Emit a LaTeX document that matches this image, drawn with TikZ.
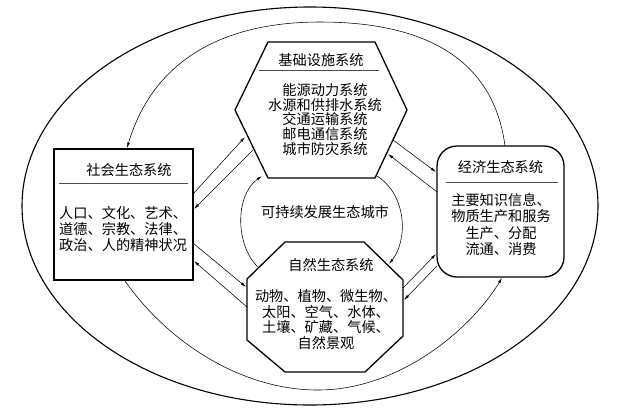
\documentclass[tikz,border=0pt]{standalone}
\usepackage{fontspec}
\newfontfamily\cjk{Noto Sans CJK SC}
\usetikzlibrary{arrows.meta}
\begin{document}
\begin{tikzpicture}[x=1pt,y=-1pt,
  shapeline/.style={line width=1.3pt, line join=miter},
  link/.style={line width=0.55pt, -{Latex[length=5.5pt,width=2.8pt]}},
  rulel/.style={line width=0.9pt, black!70},
  txt/.style={font=\cjk\fontsize{14.2}{15.5}\selectfont, inner sep=0pt, align=center},
  txthex/.style={font=\cjk\fontsize{14.2}{14.75}\selectfont, inner sep=0pt, align=center},
  txtsoc/.style={font=\cjk\fontsize{14.2}{16}\selectfont, inner sep=0pt, align=left},
  txteco/.style={font=\cjk\fontsize{14.2}{16.3}\selectfont, inner sep=0pt, align=center},
  txtoct/.style={font=\cjk\fontsize{14.2}{15.7}\selectfont, inner sep=0pt, align=center},
]
\useasboundingbox (0,0) rectangle (639,415);

% outer ellipse
\draw[line width=1.1pt] (310,206) ellipse [x radius=288, y radius=199];

% social box
\node[draw, shapeline, minimum width=139pt, minimum height=131pt, inner sep=0pt] (soc) at (123.5,214.5) {};
% economic box
\node[draw, shapeline, rounded corners=20pt, minimum width=127pt, minimum height=131pt, inner sep=0pt] (eco) at (500.5,211.5) {};

% hexagon
\coordinate (hx1) at (268,42);
\coordinate (hx2) at (375,42);
\coordinate (hx3) at (407,110);
\coordinate (hx4) at (375,178);
\coordinate (hx5) at (268,178);
\coordinate (hx6) at (235,110);
\draw[shapeline] (hx1) -- (hx2) -- (hx3) -- (hx4) -- (hx5) -- (hx6) -- cycle;

% octagon
\coordinate (oc1) at (285,242);
\coordinate (oc2) at (364,242);
\coordinate (oc3) at (403,280);
\coordinate (oc4) at (403,336);
\coordinate (oc5) at (365,372);
\coordinate (oc6) at (285,372);
\coordinate (oc7) at (247,340);
\coordinate (oc8) at (247,279);
\draw[shapeline] (oc1) -- (oc2) -- (oc3) -- (oc4) -- (oc5) -- (oc6) -- (oc7) -- (oc8) -- cycle;

% texts
\node[txt] (hext) at (321,60) {基础设施系统};
\draw[rulel] (259,70) -- (379,70);
\node[txthex] (hexb) at (325,119.5) {能源动力系统\\水源和供排水系统\\交通运输系统\\邮电通信系统\\城市防灾系统};

\node[txt] (soct) at (129,170) {社会生态系统};
\draw[rulel] (59,183) -- (188,183);
\node[txtsoc, anchor=west] (socb) at (59,229) {人口、文化、艺术、\\道德、宗教、法律、\\政治、人的精神状况};

\node[txt] (ecot) at (500.5,167) {经济生态系统};
\draw[rulel] (446,182) -- (558,182);
\node[txteco] (ecob) at (501,224.5) {主要知识信息、\\物质生产和服务\\生产、分配\\流通、消费};

\node[txt] (octt) at (331,265) {自然生态系统};
\node[txtoct] (octb) at (326,319.5) {动物、植物、微生物、\\太阳、空气、水体、\\土壤、矿藏、气候、\\自然景观};

\node[txt] (ctr) at (325,212) {可持续发展生态城市};

% inner arcs around centre
\coordinate (al1) at (258,267);
\coordinate (al2) at (262,176);
\coordinate (ar1) at (377,176);
\coordinate (ar2) at (389,264);
\draw[link] (al1) .. controls (235,245) and (235,195) .. (al2);
\draw[link] (ar1) .. controls (407,195) and (408,240) .. (ar2);

% social <-> infrastructure
\coordinate (s1) at (193,194); \coordinate (h1) at (245,137);
\coordinate (h2) at (253,150); \coordinate (s2) at (194,209);
\draw[link] (s1) -- (h1);
\draw[link] (h2) -- (s2);

% social <-> nature
\coordinate (s3) at (193,243); \coordinate (o1) at (246,287);
\coordinate (o2) at (247,307); \coordinate (s4) at (194,261);
\draw[link] (s3) -- (o1);
\draw[link] (o2) -- (s4);

% infrastructure <-> economy
\coordinate (h3) at (393,140); \coordinate (e1) at (436,172);
\coordinate (e2) at (437,192); \coordinate (h4) at (388,154);
\draw[link] (h3) -- (e1);
\draw[link] (e2) -- (h4);

% nature <-> economy
\coordinate (o3) at (403,288); \coordinate (e3) at (436,254);
\coordinate (e4) at (437,266); \coordinate (o4) at (404,300);
\draw[link] (o3) -- (e3);
\draw[link] (e4) -- (o4);

% big loop curves
\coordinate (etop) at (505,146);
\coordinate (stop) at (127,148);
\coordinate (sbot) at (125,281);
\coordinate (ebot) at (502,278);
\draw[link] (etop) .. controls (495,70) and (440,22) .. (320,22) .. controls (230,22) and (155,55) .. (stop);
\draw[link] (sbot) .. controls (170,345) and (245,391) .. (320,390) .. controls (400,389) and (470,330) .. (ebot);

\end{tikzpicture}
\end{document}
